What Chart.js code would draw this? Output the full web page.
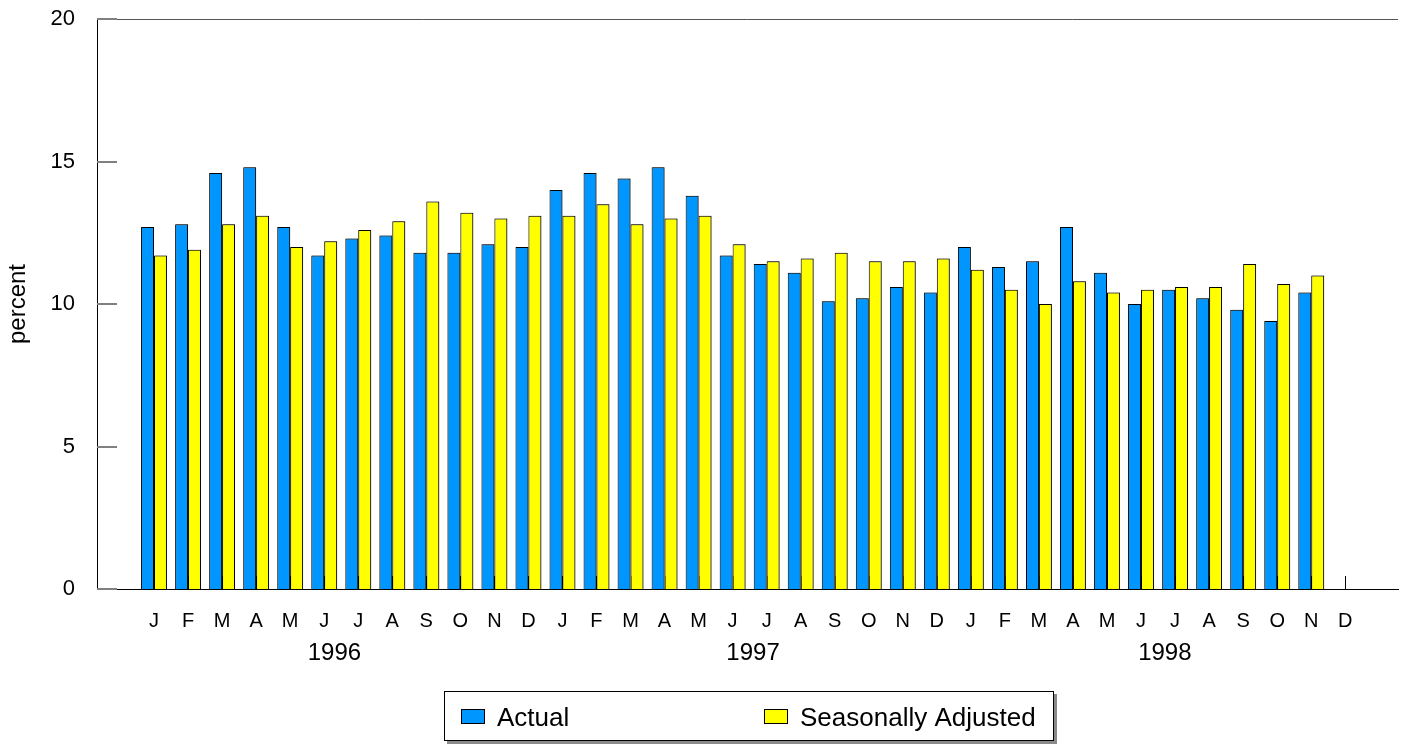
<!DOCTYPE html>
<html>
<head>
<meta charset="utf-8">
<script src="https://cdn.jsdelivr.net/npm/chart.js@4/dist/chart.umd.min.js"></script>
<style>
  html, body { margin: 0; padding: 0; background: #fff; }
  #wrap { width: 1401px; height: 744px; }
</style>
</head>
<body>
<div id="wrap"><canvas id="chart" width="1401" height="744"></canvas></div>
<script>
const months = ['J','F','M','A','M','J','J','A','S','O','N','D',
                'J','F','M','A','M','J','J','A','S','O','N','D',
                'J','F','M','A','M','J','J','A','S','O','N','D'];
const years = ['1996', '1997', '1998'];
const yearCenters = [5.3, 17.6, 29.7];

const actual = [12.7, 12.8, 14.6, 14.8, 12.7, 11.7, 12.3, 12.4, 11.8, 11.8, 12.1, 12.0,
                14.0, 14.6, 14.4, 14.8, 13.8, 11.7, 11.4, 11.1, 10.1, 10.2, 10.6, 10.4,
                12.0, 11.3, 11.5, 12.7, 11.1, 10.0, 10.5, 10.2, 9.8, 9.4, 10.4, null];
const adjusted = [11.7, 11.9, 12.8, 13.1, 12.0, 12.2, 12.6, 12.9, 13.6, 13.2, 13.0, 13.1,
                  13.1, 13.5, 12.8, 13.0, 13.1, 12.1, 11.5, 11.6, 11.8, 11.5, 11.5, 11.6,
                  11.2, 10.5, 10.0, 10.8, 10.4, 10.5, 10.6, 10.6, 11.4, 10.7, 11.0, null];
const yTicks = [0, 5, 10, 15, 20];

const seriesNames = ['Actual', 'Seasonally Adjusted'];
const seriesColors = ['#0096ff', '#ffff00'];

const FONT = '"Liberation Sans", Arial, Helvetica, sans-serif';

const decor = {
  id: 'decor',
  beforeDatasetsDraw(chart) {
    const { ctx, chartArea: a, scales: { x, y } } = chart;
    ctx.save();
    // top frame line
    ctx.strokeStyle = '#555';
    ctx.lineWidth = 1;
    ctx.beginPath();
    ctx.moveTo(a.left, a.top + 0.5);
    ctx.lineTo(a.right, a.top + 0.5);
    ctx.stroke();
    // inward y ticks
    ctx.strokeStyle = '#808080';
    ctx.lineWidth = 2;
    yTicks.forEach(v => {
      const py = Math.round(y.getPixelForValue(v));
      ctx.beginPath();
      ctx.moveTo(a.left, py);
      ctx.lineTo(a.left + 20, py);
      ctx.stroke();
    });
    // upward x ticks at each month
    ctx.strokeStyle = '#000';
    ctx.lineWidth = 1;
    months.forEach((m, i) => {
      const px = Math.round(x.getPixelForValue(i)) + 0.5;
      ctx.beginPath();
      ctx.moveTo(px, a.bottom);
      ctx.lineTo(px, a.bottom - 13);
      ctx.stroke();
    });
    ctx.restore();
    // soft shadow under the bars
    ctx.save();
    ctx.shadowColor = 'rgba(0,0,0,0.45)';
    ctx.shadowOffsetX = 1;
    ctx.shadowOffsetY = 0;
    ctx.shadowBlur = 0;
  },
  afterDatasetsDraw(chart) {
    chart.ctx.restore();
  },
  afterDraw(chart) {
    const { ctx, scales: { x } } = chart;
    ctx.save();
    // year labels
    ctx.fillStyle = '#000';
    ctx.font = '24px ' + FONT;
    ctx.textAlign = 'center';
    ctx.textBaseline = 'middle';
    years.forEach((yr, i) => {
      ctx.fillText(yr, x.getPixelForValue(yearCenters[i]), 653);
    });
    // legend box with shadow
    const bx = 444, by = 691, bw = 610, bh = 50;
    ctx.fillStyle = '#8a8a8a';
    ctx.fillRect(bx + 3, by + 3, bw, bh);
    ctx.fillStyle = '#fff';
    ctx.fillRect(bx, by, bw, bh);
    ctx.strokeStyle = '#000';
    ctx.lineWidth = 1;
    ctx.strokeRect(bx + 0.5, by + 0.5, bw - 1, bh - 1);
    const itemX = [461, 764];
    ctx.font = '26px ' + FONT;
    ctx.textAlign = 'left';
    ctx.textBaseline = 'alphabetic';
    seriesNames.forEach((name, i) => {
      ctx.fillStyle = seriesColors[i];
      ctx.fillRect(itemX[i], 709, 24, 15);
      ctx.strokeStyle = '#000';
      ctx.strokeRect(itemX[i] + 0.5, 709.5, 23, 14);
      ctx.fillStyle = '#000';
      ctx.fillText(name, itemX[i] + 36, 726);
    });
    ctx.restore();
  }
};

new Chart(document.getElementById('chart'), {
  type: 'bar',
  data: {
    datasets: [
      {
        label: seriesNames[0],
        data: actual.map((v, i) => ({ x: i, y: v })),
        backgroundColor: seriesColors[0],
        borderColor: '#000',
        borderWidth: 1
      },
      {
        label: seriesNames[1],
        data: adjusted.map((v, i) => ({ x: i, y: v })),
        backgroundColor: seriesColors[1],
        borderColor: '#000',
        borderWidth: 1
      }
    ]
  },
  options: {
    responsive: false,
    animation: false,
    barPercentage: 1,
    categoryPercentage: 0.76,
    layout: { padding: { top: 19, right: 3, left: 0, bottom: 0 } },
    plugins: {
      legend: { display: false },
      tooltip: { enabled: false }
    },
    scales: {
      x: {
        type: 'linear',
        min: -1.675,
        max: 36.55,
        offset: false,
        grid: { display: false, offset: false },
        border: { display: true, color: '#000', width: 1 },
        afterBuildTicks(scale) {
          scale.ticks = months.map((m, i) => ({ value: i }));
        },
        afterFit(scale) {
          scale.height = 155;
          scale.paddingLeft = 0;
          scale.paddingRight = 0;
        },
        ticks: {
          autoSkip: false,
          maxRotation: 0,
          padding: 12,
          color: '#000',
          font: { family: FONT, size: 20 },
          callback: (v, i) => months[i]
        }
      },
      y: {
        min: 0,
        max: 20,
        grid: { display: false },
        border: { display: true, color: '#000', width: 1 },
        afterBuildTicks(scale) {
          scale.ticks = yTicks.map(v => ({ value: v }));
        },
        afterFit(scale) {
          scale.width = 97;
          scale.paddingTop = 0;
          scale.paddingBottom = 0;
        },
        ticks: {
          padding: 14,
          color: '#000',
          font: { family: FONT, size: 22 }
        },
        title: {
          display: true,
          text: 'percent',
          color: '#000',
          font: { family: FONT, size: 24 },
          padding: { top: 4, bottom: 0 }
        }
      }
    }
  },
  plugins: [decor]
});
</script>
</body>
</html>
